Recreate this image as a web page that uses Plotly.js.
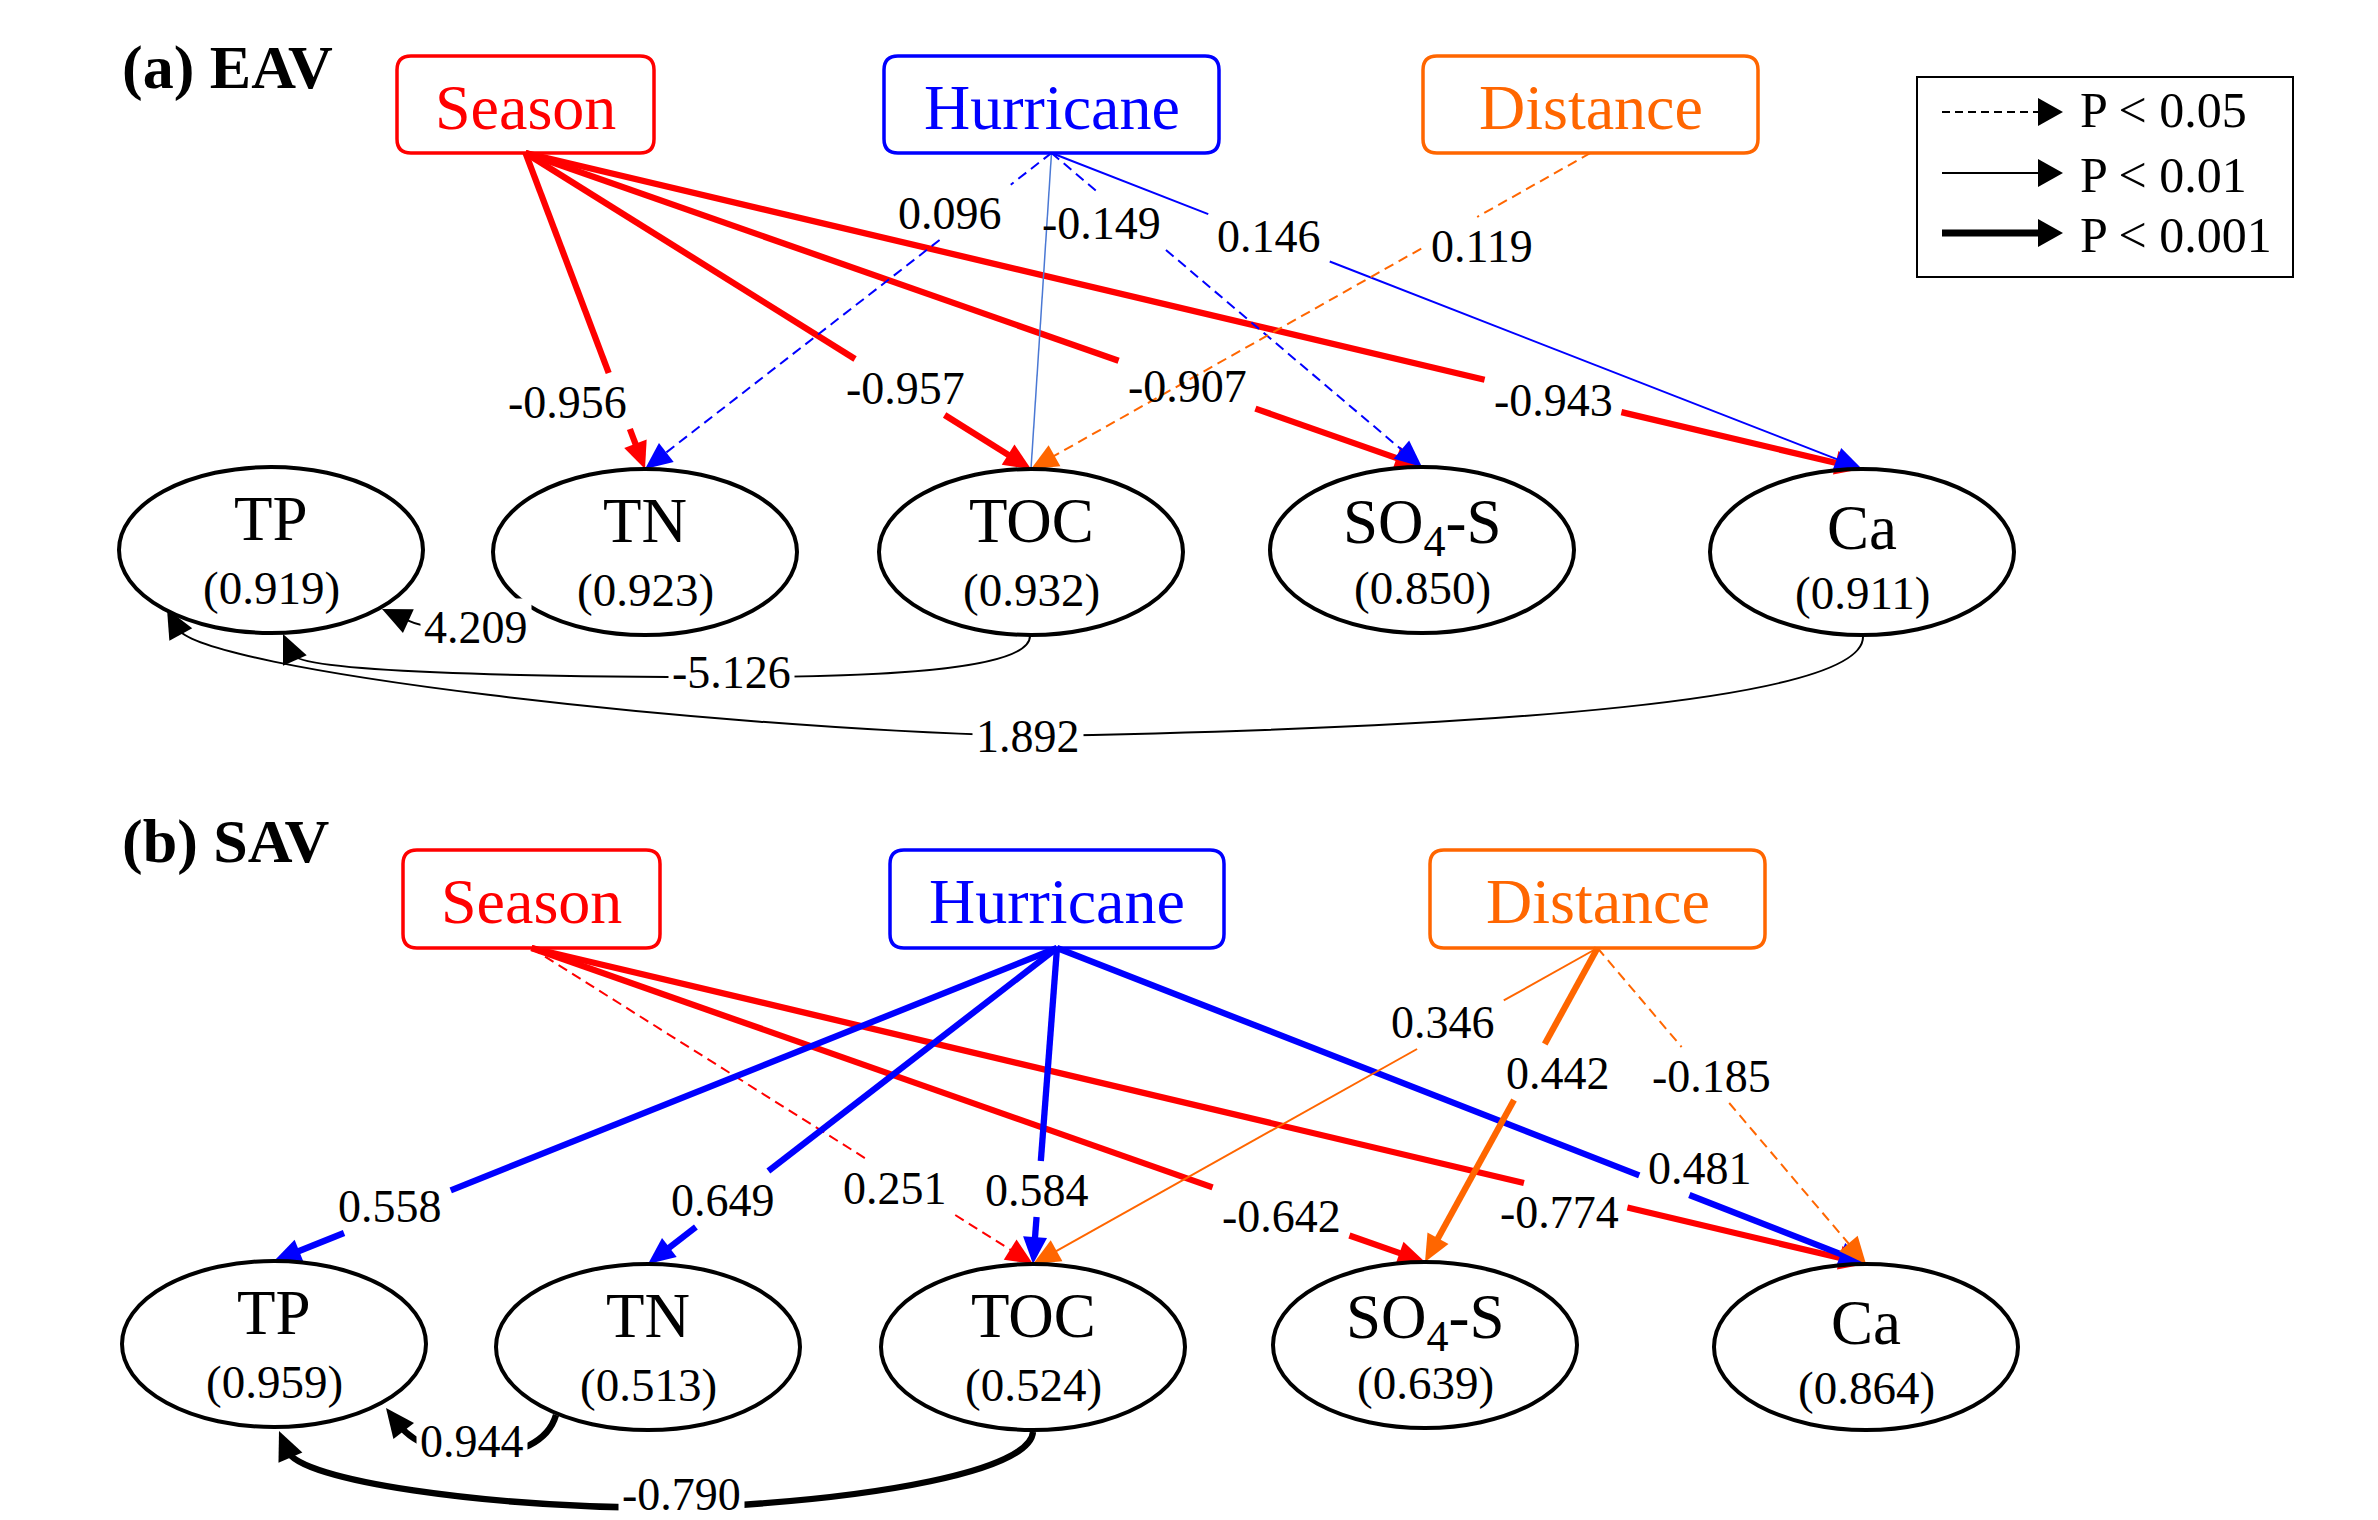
<!DOCTYPE html>
<html>
<head>
<meta charset="utf-8">
<script src="https://cdn.plot.ly/plotly-3.0.1.min.js"></script>
<style>
html,body{margin:0;padding:0;background:#fff;}
#chart{width:2378px;height:1520px;}
</style>
</head>
<body>
<div id="chart"></div>
<script>
// ===================== DATA =====================
const drivers = ['Season', 'Hurricane', 'Distance'];
const responses = ['TP', 'TN', 'TOC', 'SO4-S', 'Ca'];
const responseLabels = ['TP', 'TN', 'TOC', 'SO<sub>4</sub>-S', 'Ca'];
const panelTitles = ['(a) EAV', '(b) SAV'];

// R² of each response
const r2EAV = [0.919, 0.923, 0.932, 0.850, 0.911];
const r2SAV = [0.959, 0.513, 0.524, 0.639, 0.864];

// Driver -> response paths, panel (a) EAV
const pathFromEAV = ['Season', 'Season', 'Season', 'Season', 'Hurricane', 'Hurricane', 'Hurricane', 'Hurricane', 'Distance'];
const pathToEAV   = ['TN', 'TOC', 'SO4-S', 'Ca', 'TN', 'TOC', 'SO4-S', 'Ca', 'TOC'];
const pathCoefEAV = [-0.956, -0.957, -0.907, -0.943, 0.096, null, -0.149, 0.146, 0.119];
const pathSigEAV  = ['p001', 'p001', 'p001', 'p001', 'p05', 'ns', 'p05', 'p01', 'p05'];

// Response -> TP paths, panel (a)
const linkFromEAV = ['TN', 'TOC', 'Ca'];
const linkToEAV   = ['TP', 'TP', 'TP'];
const linkCoefEAV = [4.209, -5.126, 1.892];
const linkSigEAV  = ['p01', 'p01', 'p01'];

// Driver -> response paths, panel (b) SAV
const pathFromSAV = ['Season', 'Season', 'Season', 'Hurricane', 'Hurricane', 'Hurricane', 'Hurricane', 'Distance', 'Distance', 'Distance'];
const pathToSAV   = ['TOC', 'SO4-S', 'Ca', 'TP', 'TN', 'TOC', 'Ca', 'TOC', 'SO4-S', 'Ca'];
const pathCoefSAV = [0.251, -0.642, -0.774, 0.558, 0.649, 0.584, 0.481, 0.346, 0.442, -0.185];
const pathSigSAV  = ['p05', 'p001', 'p001', 'p001', 'p001', 'p001', 'p001', 'p01', 'p001', 'p05'];

// Response -> TP paths, panel (b)
const linkFromSAV = ['TN', 'TOC'];
const linkToSAV   = ['TP', 'TP'];
const linkCoefSAV = [0.944, -0.790];
const linkSigSAV  = ['p001', 'p001'];

// Legend
const legendSig = ['p05', 'p01', 'p001'];
const legendLabels = ['P &lt; 0.05', 'P &lt; 0.01', 'P &lt; 0.001'];

// ===================== LAYOUT / STYLE =====================
const W = 2378, H = 1520;
const FONT = 'Liberation Serif, Times New Roman, Times, serif';
const RX = 152, RY = 83;
const HEAD_L = 27, HEAD_W = 12;
const LABEL_SIZE = 46;

const DRIVER_COLOR = {Season: '#FF0000', Hurricane: '#0000FF', Distance: '#FF6600'};
const NS_COLOR = {Season: '#FF6060', Hurricane: '#4A78D4', Distance: '#FF9955'};
const SIG_STYLE = {
  p05:  {width: 2,   dash: '10px,6px', head: true},
  p01:  {width: 2,   dash: 'solid',    head: true},
  p001: {width: 6.3, dash: 'solid',    head: true},
  ns:   {width: 1.5, dash: 'solid',    head: false}
};
const NAME_DY = {TP: -31, TN: -31, TOC: -31, 'SO4-S': -24, Ca: -24};
const R2_DY = {TP: 38, TN: 38, TOC: 38, 'SO4-S': 38, Ca: 41};

const GEOM = {
  a: {
    title: [120, 67],
    boxY: [56, 153],
    boxX: {Season: [397, 654], Hurricane: [884, 1219], Distance: [1423, 1758]},
    ell: {TP: [271, 550], TN: [645, 552], TOC: [1031, 552], 'SO4-S': [1422, 550], Ca: [1862, 552]},
    labels: {
      'Season>TN': [567, 402], 'Season>TOC': [905, 388], 'Season>SO4-S': [1187, 386], 'Season>Ca': [1553, 400],
      'Hurricane>TN': [950, 213], 'Hurricane>SO4-S': [1101, 223], 'Hurricane>Ca': [1269, 236],
      'Distance>TOC': [1482, 246],
      'TN>TP': [476, 627], 'TOC>TP': [731, 672], 'Ca>TP': [1028, 736]
    },
    curves: {
      'TN>TP':  [[527, 603], [489, 634], [441, 636], [382, 609]],
      'TOC>TP': [[1030, 636], [1030, 668], [900, 677], [731, 677], [520, 677], [300, 672], [283, 634]],
      'Ca>TP':  [[1863, 637], [1863, 700], [1500, 728], [1028, 736], [700, 728], [200, 670], [167, 609]]
    }
  },
  b: {
    title: [120, 841],
    boxY: [850, 948],
    boxX: {Season: [403, 660], Hurricane: [890, 1224], Distance: [1430, 1765]},
    ell: {TP: [274, 1344], TN: [648, 1347], TOC: [1033, 1347], 'SO4-S': [1425, 1345], Ca: [1866, 1347]},
    labels: {
      'Season>TOC': [895, 1188], 'Season>SO4-S': [1281, 1216], 'Season>Ca': [1559, 1212],
      'Hurricane>TP': [390, 1206], 'Hurricane>TN': [723, 1200], 'Hurricane>TOC': [1037, 1190], 'Hurricane>Ca': [1700, 1168],
      'Distance>TOC': [1443, 1022], 'Distance>SO4-S': [1558, 1073], 'Distance>Ca': [1711, 1076],
      'TN>TP': [472, 1441], 'TOC>TP': [681, 1494]
    },
    curves: {
      'TN>TP':  [[556, 1415], [540, 1470], [430, 1465], [386, 1408]],
      'TOC>TP': [[1033, 1432], [1030, 1470], [880, 1500], [680, 1508], [480, 1508], [300, 1480], [279, 1431]]
    }
  }
};

const LEGEND = {box: [1917, 77, 2293, 277], rowY: [112, 173, 233], textY: [110, 175, 235], lineX: [1942, 2040], tipX: 2063, textX: 2078};

// ===================== BUILD =====================
const shapes = [];
const annotations = [];

function addText(x, y, text, size, color, extra) {
  annotations.push(Object.assign({
    x: x, y: y, xref: 'x', yref: 'y', text: text, showarrow: false,
    xanchor: 'center', yanchor: 'middle',
    font: {family: FONT, size: size, color: color}
  }, extra || {}));
}
function addLine(x0, y0, x1, y1, color, width, dash) {
  if (Math.hypot(x1 - x0, y1 - y0) < 0.5) return;
  shapes.push({type: 'line', xref: 'x', yref: 'y', x0: x0, y0: y0, x1: x1, y1: y1,
    line: {color: color, width: width, dash: dash}, layer: 'above'});
}
function addHead(tx, ty, ux, uy, color, L, Wd) {
  L = L || HEAD_L; Wd = Wd || HEAD_W;
  const bx = tx - ux * L, by = ty - uy * L, nx = -uy, ny = ux;
  shapes.push({type: 'path', xref: 'x', yref: 'y',
    path: 'M' + tx + ',' + ty + ' L' + (bx + nx * Wd) + ',' + (by + ny * Wd) + ' L' + (bx - nx * Wd) + ',' + (by - ny * Wd) + ' Z',
    fillcolor: color, line: {width: 0, color: color}, layer: 'above'});
}
function roundRect(x0, y0, x1, y1, r) {
  return 'M' + (x0 + r) + ',' + y0 + ' L' + (x1 - r) + ',' + y0 + ' Q' + x1 + ',' + y0 + ' ' + x1 + ',' + (y0 + r) +
    ' L' + x1 + ',' + (y1 - r) + ' Q' + x1 + ',' + y1 + ' ' + (x1 - r) + ',' + y1 +
    ' L' + (x0 + r) + ',' + y1 + ' Q' + x0 + ',' + y1 + ' ' + x0 + ',' + (y1 - r) +
    ' L' + x0 + ',' + (y0 + r) + ' Q' + x0 + ',' + y0 + ' ' + (x0 + r) + ',' + y0 + ' Z';
}
function textW(s, fs) {
  let w = 0;
  for (const c of s) w += (c === '.') ? 0.25 : (c === '-') ? 0.333 : 0.5;
  return w * fs;
}
// Liang-Barsky: parameter interval of segment inside rect
function clipT(x0, y0, x1, y1, rx0, ry0, rx1, ry1) {
  let t0 = 0, t1 = 1;
  const dx = x1 - x0, dy = y1 - y0;
  const p = [-dx, dx, -dy, dy], q = [x0 - rx0, rx1 - x0, y0 - ry0, ry1 - y0];
  for (let i = 0; i < 4; i++) {
    if (p[i] === 0) { if (q[i] < 0) return null; }
    else {
      const r = q[i] / p[i];
      if (p[i] < 0) { if (r > t1) return null; if (r > t0) t0 = r; }
      else { if (r < t0) return null; if (r < t1) t1 = r; }
    }
  }
  return [t0, t1];
}

function buildPanel(key, title, r2, from, to, coef, sig, lFrom, lTo, lCoef, lSig) {
  const g = GEOM[key];
  addText(g.title[0], g.title[1], '<b>' + title + '</b>', 62, '#000', {xanchor: 'left'});

  // driver -> response paths (drawn grouped by driver order)
  drivers.forEach(function (d) {
    for (let i = 0; i < from.length; i++) {
      if (from[i] !== d) continue;
      const bx = g.boxX[from[i]];
      const sx = (bx[0] + bx[1]) / 2, sy = g.boxY[1];
      const e = g.ell[to[i]];
      const tx = e[0], ty = e[1] - RY;
      const st = SIG_STYLE[sig[i]];
      const color = sig[i] === 'ns' ? NS_COLOR[from[i]] : DRIVER_COLOR[from[i]];
      const dx = tx - sx, dy = ty - sy, len = Math.hypot(dx, dy), ux = dx / len, uy = dy / len;
      const ex = st.head ? tx - ux * (HEAD_L - 4) : tx;
      const ey = st.head ? ty - uy * (HEAD_L - 4) : ty;
      let segs = [[sx, sy, ex, ey]];
      if (coef[i] !== null) {
        const txt = coef[i].toFixed(3);
        const lp = g.labels[from[i] + '>' + to[i]];
        const hw = textW(txt, LABEL_SIZE) / 2 + 9;
        const cl = clipT(sx, sy, ex, ey, lp[0] - hw, lp[1] - 29, lp[0] + hw, lp[1] + 27);
        if (cl) {
          segs = [[sx, sy, sx + (ex - sx) * cl[0], sy + (ey - sy) * cl[0]],
                  [sx + (ex - sx) * cl[1], sy + (ey - sy) * cl[1], ex, ey]];
        }
        addText(lp[0], lp[1], txt, LABEL_SIZE, '#000');
      }
      segs.forEach(function (s) { addLine(s[0], s[1], s[2], s[3], color, st.width, st.dash); });
      if (st.head) addHead(tx, ty, ux, uy, color);
    }
  });

  // driver boxes
  drivers.forEach(function (d) {
    const bx = g.boxX[d];
    shapes.push({type: 'path', xref: 'x', yref: 'y', path: roundRect(bx[0], g.boxY[0], bx[1], g.boxY[1], 14),
      line: {color: DRIVER_COLOR[d], width: 3.5}, fillcolor: 'rgba(0,0,0,0)', layer: 'above'});
    addText((bx[0] + bx[1]) / 2, (g.boxY[0] + g.boxY[1]) / 2 + 2.5, d, 64, DRIVER_COLOR[d]);
  });

  // response ellipses
  responses.forEach(function (r, j) {
    const e = g.ell[r];
    shapes.push({type: 'circle', xref: 'x', yref: 'y', x0: e[0] - RX, x1: e[0] + RX, y0: e[1] - RY, y1: e[1] + RY,
      line: {color: '#000', width: 4}, fillcolor: 'rgba(0,0,0,0)', layer: 'above'});
    addText(e[0], e[1] + NAME_DY[r], responseLabels[j], 63, '#000');
    addText(e[0], e[1] + R2_DY[r], '(' + r2[j].toFixed(3) + ')', 47, '#000');
  });

  // response -> TP curved paths
  for (let i = 0; i < lFrom.length; i++) {
    const k = lFrom[i] + '>' + lTo[i];
    const pts = g.curves[k];
    const st = SIG_STYLE[lSig[i]];
    const tip = pts[pts.length - 1], ctrl = pts[pts.length - 2];
    let ux = tip[0] - ctrl[0], uy = tip[1] - ctrl[1];
    const ul = Math.hypot(ux, uy); ux /= ul; uy /= ul;
    const endX = tip[0] - ux * (HEAD_L - 5), endY = tip[1] - uy * (HEAD_L - 5);
    let path = 'M' + pts[0][0] + ',' + pts[0][1];
    for (let s = 1; s + 2 < pts.length; s += 3) {
      const last = (s + 3 >= pts.length);
      const p3 = last ? [endX, endY] : pts[s + 2];
      path += ' C' + pts[s][0] + ',' + pts[s][1] + ' ' + pts[s + 1][0] + ',' + pts[s + 1][1] + ' ' + p3[0] + ',' + p3[1];
    }
    shapes.push({type: 'path', xref: 'x', yref: 'y', path: path, line: {color: '#000', width: st.width, dash: st.dash},
      fillcolor: 'rgba(0,0,0,0)', layer: 'above'});
    addHead(tip[0], tip[1], ux, uy, '#000', 29, 13);
    const lp = g.labels[k];
    addText(lp[0], lp[1], lCoef[i].toFixed(3), LABEL_SIZE, '#000', {bgcolor: '#ffffff', borderpad: 3});
  }
}

buildPanel('a', panelTitles[0], r2EAV, pathFromEAV, pathToEAV, pathCoefEAV, pathSigEAV, linkFromEAV, linkToEAV, linkCoefEAV, linkSigEAV);
buildPanel('b', panelTitles[1], r2SAV, pathFromSAV, pathToSAV, pathCoefSAV, pathSigSAV, linkFromSAV, linkToSAV, linkCoefSAV, linkSigSAV);

// legend
(function () {
  const b = LEGEND.box;
  shapes.push({type: 'rect', xref: 'x', yref: 'y', x0: b[0], y0: b[1], x1: b[2], y1: b[3],
    line: {color: '#000', width: 2}, fillcolor: 'rgba(0,0,0,0)', layer: 'above'});
  const legendWidths = {p05: 1.8, p01: 2, p001: 7};
  const legendDash = {p05: '8px,5px', p01: 'solid', p001: 'solid'};
  legendSig.forEach(function (s, i) {
    const y = LEGEND.rowY[i];
    addLine(LEGEND.lineX[0], y, LEGEND.lineX[1], y, '#000', legendWidths[s], legendDash[s]);
    addHead(LEGEND.tipX, y, 1, 0, '#000', 25, 14);
    addText(LEGEND.textX, LEGEND.textY[i], legendLabels[i], 50, '#000', {xanchor: 'left'});
  });
})();

const layout = {
  width: W, height: H,
  margin: {l: 0, r: 0, t: 0, b: 0, pad: 0},
  paper_bgcolor: '#ffffff', plot_bgcolor: '#ffffff',
  showlegend: false,
  xaxis: {range: [0, W], autorange: false, visible: false, fixedrange: true},
  yaxis: {range: [H, 0], autorange: false, visible: false, fixedrange: true},
  shapes: shapes,
  annotations: annotations
};

Plotly.newPlot('chart', [{x: [0, W], y: [0, H], type: 'scatter', mode: 'markers',
  marker: {opacity: 0}, hoverinfo: 'skip', showlegend: false}], layout, {staticPlot: true, displayModeBar: false});
</script>
</body>
</html>
